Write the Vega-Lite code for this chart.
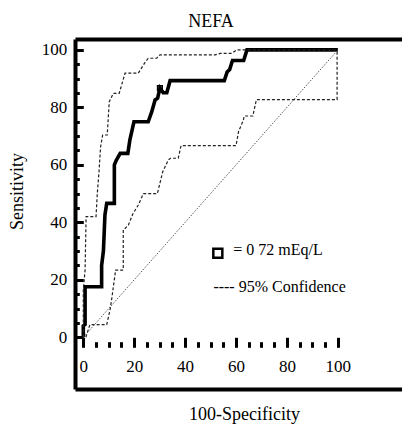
{
  "$schema": "https://vega.github.io/schema/vega-lite/v6.json",
  "width": 327,
  "height": 350,
  "autosize": "none",
  "padding": {"left": 75, "top": 39, "right": 0, "bottom": 36},
  "background": "white",
  "title": {"text": "NEFA", "font": "Liberation Serif", "fontSize": 18, "fontWeight": "normal", "color": "black", "anchor": "middle", "baseline": "alphabetic", "offset": -6.4, "dx": -27.5},
  "config": {
    "view": {"stroke": null},
    "axis": {"grid": false, "labelFont": "Liberation Serif", "titleFont": "Liberation Serif", "labelColor": "black", "titleColor": "black", "tickColor": "black", "domainColor": "black", "titleFontWeight": "normal", "labelFlush": false, "labelOverlap": false}
  },
  "datasets": {
    "main": [
      {"i": 0, "x": 0, "y": 0}, {"i": 1, "x": 0, "y": 4}, {"i": 2, "x": 0.7, "y": 4.5}, {"i": 3, "x": 0.7, "y": 17.6},
      {"i": 4, "x": 7.2, "y": 17.6}, {"i": 5, "x": 7.2, "y": 25}, {"i": 6, "x": 7.9, "y": 30}, {"i": 7, "x": 8.5, "y": 42.6},
      {"i": 8, "x": 9.2, "y": 46.6}, {"i": 9, "x": 12.2, "y": 46.6}, {"i": 10, "x": 12.2, "y": 60}, {"i": 11, "x": 13, "y": 61.7},
      {"i": 12, "x": 14.5, "y": 64}, {"i": 13, "x": 17.5, "y": 64}, {"i": 14, "x": 18.3, "y": 68.7}, {"i": 15, "x": 19.9, "y": 75},
      {"i": 16, "x": 25.5, "y": 75}, {"i": 17, "x": 26.9, "y": 78.5}, {"i": 18, "x": 28.2, "y": 82.6}, {"i": 19, "x": 29.2, "y": 83.2},
      {"i": 20, "x": 30.1, "y": 86.7}, {"i": 21, "x": 31.4, "y": 85.1}, {"i": 22, "x": 32.8, "y": 85.1}, {"i": 23, "x": 34.1, "y": 89.3},
      {"i": 24, "x": 55.4, "y": 89.3}, {"i": 25, "x": 56.5, "y": 92.3}, {"i": 26, "x": 57.5, "y": 93.2}, {"i": 27, "x": 58.6, "y": 96.3},
      {"i": 28, "x": 63, "y": 96.3}, {"i": 29, "x": 64.3, "y": 100}, {"i": 30, "x": 100, "y": 100}
    ],
    "upper": [
      {"i": 0, "x": 0, "y": 0}, {"i": 1, "x": 0, "y": 16.5}, {"i": 2, "x": 0.7, "y": 23.4}, {"i": 3, "x": 1.1, "y": 42},
      {"i": 4, "x": 5, "y": 42}, {"i": 5, "x": 5.5, "y": 50}, {"i": 6, "x": 6.2, "y": 58}, {"i": 7, "x": 6.8, "y": 66.3},
      {"i": 8, "x": 7.6, "y": 70.4}, {"i": 9, "x": 9.4, "y": 70.4}, {"i": 10, "x": 10.2, "y": 82}, {"i": 11, "x": 11.8, "y": 84.9},
      {"i": 12, "x": 14.1, "y": 84.9}, {"i": 13, "x": 16.4, "y": 91.9}, {"i": 14, "x": 21.6, "y": 91.9}, {"i": 15, "x": 24.2, "y": 95.6},
      {"i": 16, "x": 25.5, "y": 97.1}, {"i": 17, "x": 28.8, "y": 97.1}, {"i": 18, "x": 30.1, "y": 98.3}, {"i": 19, "x": 51.8, "y": 98.3},
      {"i": 20, "x": 53.8, "y": 98.8}, {"i": 21, "x": 58.3, "y": 98.8}, {"i": 22, "x": 60.3, "y": 100}, {"i": 23, "x": 100, "y": 100}
    ],
    "lower": [
      {"i": 0, "x": 1, "y": 0}, {"i": 1, "x": 2.6, "y": 4.4}, {"i": 2, "x": 9.2, "y": 4.4}, {"i": 3, "x": 10.5, "y": 9.5},
      {"i": 4, "x": 11.2, "y": 13.6}, {"i": 5, "x": 12.7, "y": 23.4}, {"i": 6, "x": 15.7, "y": 23.4}, {"i": 7, "x": 15.7, "y": 37.3},
      {"i": 8, "x": 17.7, "y": 39}, {"i": 9, "x": 19.5, "y": 43}, {"i": 10, "x": 21.6, "y": 46}, {"i": 11, "x": 23.6, "y": 50},
      {"i": 12, "x": 29.1, "y": 50}, {"i": 13, "x": 31.2, "y": 57.6}, {"i": 14, "x": 33.4, "y": 61.7}, {"i": 15, "x": 34.2, "y": 62.3},
      {"i": 16, "x": 37.3, "y": 62.3}, {"i": 17, "x": 38.4, "y": 66.7}, {"i": 18, "x": 60, "y": 66.7}, {"i": 19, "x": 61, "y": 71.6},
      {"i": 20, "x": 62.9, "y": 75.6}, {"i": 21, "x": 63.2, "y": 77}, {"i": 22, "x": 66.6, "y": 77}, {"i": 23, "x": 68, "y": 82.7},
      {"i": 24, "x": 99.7, "y": 82.7}, {"i": 25, "x": 99.7, "y": 100}
    ],
    "diag": [{"i": 0, "x": 0, "y": 0}, {"i": 1, "x": 100, "y": 100}],
    "marks": [
      {"x": 30.1, "y": 86.7, "kind": "cut"},
      {"x": 52.85, "y": 29.2, "kind": "legend"}
    ],
    "labels": [
      {"x": 58.9, "y": 28.6, "label": "= 0 72 mEq/L"},
      {"x": 51.1, "y": 15.9, "label": "---- 95% Confidence"}
    ]
  },
  "resolve": {"axis": {"x": "independent", "y": "independent"}},
  "layer": [
    {
      "data": {"name": "main"},
      "mark": {"type": "line", "color": "black", "strokeWidth": 3.6, "strokeJoin": "miter", "clip": true},
      "encoding": {
        "order": {"field": "i", "type": "quantitative"},
        "x": {"field": "x", "type": "quantitative", "scale": {"domain": [-3.26, 125.2], "nice": false, "zero": false},
          "axis": {"orient": "bottom", "offset": -51.7, "values": [0, 20, 40, 60, 80, 100], "tickSize": 10, "tickWidth": 3, "domain": false, "labelFontSize": 17, "labelPadding": 11, "title": null}},
        "y": {"field": "y", "type": "quantitative", "scale": {"domain": [-18, 103.8], "nice": false, "zero": false},
          "axis": {"orient": "left", "values": [0, 20, 40, 60, 80, 100], "tickSize": -8.3, "tickWidth": 3, "domain": true, "domainWidth": 4, "labelFontSize": 17, "labelPadding": 16.6, "title": "Sensitivity", "titleFontSize": 18, "titleAngle": -90, "titleX": -53, "titleY": 152, "titleAlign": "center", "titleBaseline": "alphabetic"}}
      }
    },
    {
      "data": {"name": "upper"},
      "mark": {"type": "line", "color": "#222222", "strokeWidth": 1.2, "strokeDash": [3, 2], "clip": true},
      "encoding": {
        "order": {"field": "i", "type": "quantitative"},
        "x": {"field": "x", "type": "quantitative", "scale": {"domain": [-3.26, 125.2], "nice": false, "zero": false},
          "axis": {"orient": "bottom", "offset": -47.3, "values": [5, 10, 15, 25, 30, 35, 45, 50, 55, 65, 70, 75, 85, 90, 95], "tickSize": 5.6, "tickWidth": 3, "domain": false, "labels": false, "title": null}},
        "y": {"field": "y", "type": "quantitative", "scale": {"domain": [-18, 103.8], "nice": false, "zero": false},
          "axis": {"orient": "left", "values": [5, 10, 15, 25, 30, 35, 45, 50, 55, 65, 70, 75, 85, 90, 95], "tickSize": -4.3, "tickWidth": 3, "domain": false, "labels": false, "title": null}}
      }
    },
    {
      "data": {"name": "lower"},
      "mark": {"type": "line", "color": "#222222", "strokeWidth": 1.2, "strokeDash": [3, 2], "clip": true},
      "encoding": {
        "order": {"field": "i", "type": "quantitative"},
        "x": {"field": "x", "type": "quantitative", "scale": {"domain": [-3.26, 125.2], "nice": false, "zero": false},
          "axis": {"orient": "bottom", "offset": 0, "domain": true, "domainWidth": 4, "ticks": false, "labels": false, "title": "100-Specificity", "titleFontSize": 18, "titleX": 169, "titleY": 30.5, "titleAlign": "center", "titleBaseline": "alphabetic"}},
        "y": {"field": "y", "type": "quantitative", "scale": {"domain": [-18, 103.8], "nice": false, "zero": false}, "axis": null}
      }
    },
    {
      "data": {"name": "diag"},
      "mark": {"type": "line", "color": "#555555", "strokeWidth": 1, "strokeDash": [1.5, 1.5], "clip": true},
      "encoding": {
        "order": {"field": "i", "type": "quantitative"},
        "x": {"field": "x", "type": "quantitative", "scale": {"domain": [-3.26, 125.2], "nice": false, "zero": false},
          "axis": {"orient": "top", "domain": true, "domainWidth": 4, "ticks": false, "labels": false, "title": null}},
        "y": {"field": "y", "type": "quantitative", "scale": {"domain": [-18, 103.8], "nice": false, "zero": false}, "axis": null}
      }
    },
    {
      "data": {"name": "marks"},
      "mark": {"type": "point", "shape": "square", "filled": false, "color": "black", "opacity": 1},
      "encoding": {
        "x": {"field": "x", "type": "quantitative", "scale": {"domain": [-3.26, 125.2], "nice": false, "zero": false}, "axis": null},
        "y": {"field": "y", "type": "quantitative", "scale": {"domain": [-18, 103.8], "nice": false, "zero": false}, "axis": null},
        "size": {"field": "kind", "type": "nominal", "scale": {"domain": ["cut", "legend"], "range": [22, 81]}, "legend": null},
        "strokeWidth": {"field": "kind", "type": "nominal", "scale": {"domain": ["cut", "legend"], "range": [1.5, 2.5]}, "legend": null}
      }
    },
    {
      "data": {"name": "labels"},
      "mark": {"type": "text", "align": "left", "baseline": "alphabetic", "font": "Liberation Serif", "fontSize": 16, "color": "black"},
      "encoding": {
        "x": {"field": "x", "type": "quantitative", "scale": {"domain": [-3.26, 125.2], "nice": false, "zero": false}, "axis": null},
        "y": {"field": "y", "type": "quantitative", "scale": {"domain": [-18, 103.8], "nice": false, "zero": false}, "axis": null},
        "text": {"field": "label", "type": "nominal"}
      }
    }
  ]
}
